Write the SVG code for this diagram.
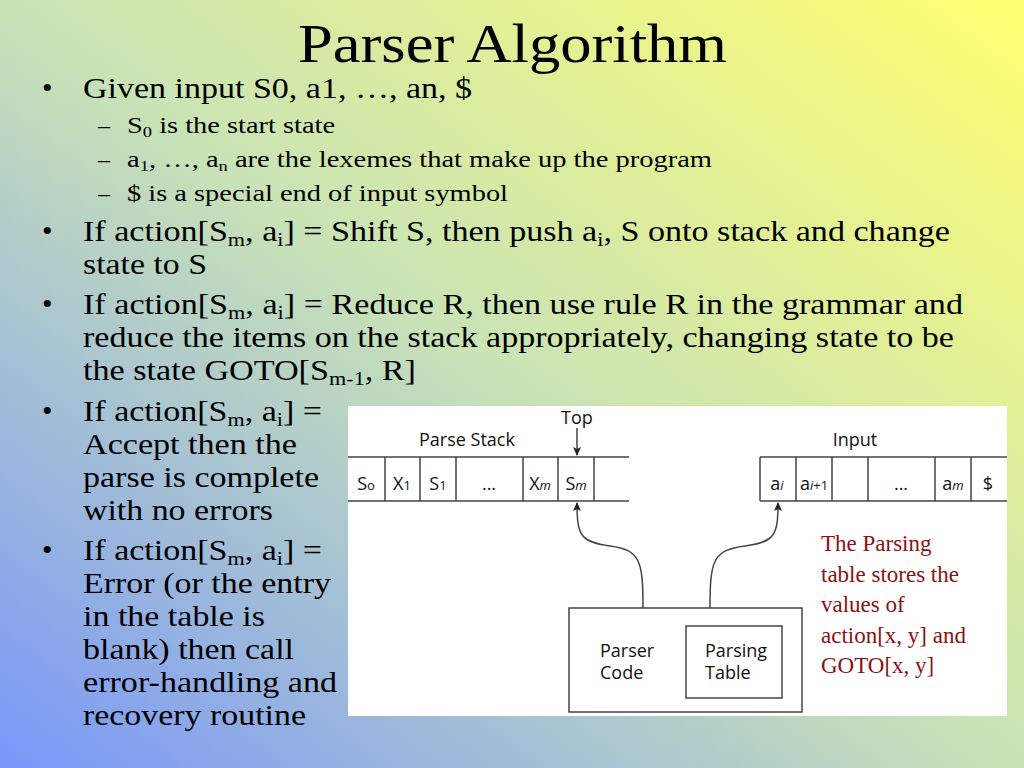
<svg xmlns="http://www.w3.org/2000/svg" width="1024" height="768" viewBox="0 0 1024 768">
<defs>
<linearGradient id="bg" x1="0" y1="1" x2="1" y2="0">
<stop offset="0" stop-color="#7896fa"/>
<stop offset="0.5" stop-color="#c9e3b6"/>
<stop offset="1" stop-color="#ffff70"/>
</linearGradient>
<marker id="ah" markerWidth="10" markerHeight="10" refX="8" refY="5" orient="auto" markerUnits="userSpaceOnUse">
<path d="M0,1 L9,5 L0,9 L2,5 Z" fill="#222"/>
</marker>
<style>
.t{font-family:"Liberation Serif",serif;fill:#000}
.m{font-size:30px}
.s{font-size:24px}
.sub{font-size:65%;baseline-shift:-0.25em}
.f{font-family:"Open Sans","DejaVu Sans",sans-serif;font-size:18px;fill:#111}
.c{text-anchor:middle}
.r{font-family:"Liberation Serif",serif;font-size:23px;fill:#8b1212}
.ln{stroke:#444;stroke-width:1.5;fill:none}
</style>
</defs>
<rect width="1024" height="768" fill="url(#bg)"/>
<text class="t" x="298" y="62" font-size="54" textLength="429" lengthAdjust="spacingAndGlyphs">Parser Algorithm</text>
<g class="t m">
<text x="42" y="98">•</text><text x="83" y="98" textLength="389" lengthAdjust="spacingAndGlyphs">Given input S0, a1, …, an, $</text>
<text x="42" y="241">•</text><text x="83" y="241" textLength="867" lengthAdjust="spacingAndGlyphs">If action[S<tspan class="sub">m</tspan>, a<tspan class="sub">i</tspan>] = Shift S, then push a<tspan class="sub">i</tspan>, S onto stack and change</text>
<text x="83" y="274" textLength="124" lengthAdjust="spacingAndGlyphs">state to S</text>
<text x="42" y="314">•</text><text x="83" y="314" textLength="880" lengthAdjust="spacingAndGlyphs">If action[S<tspan class="sub">m</tspan>, a<tspan class="sub">i</tspan>] = Reduce R, then use rule R in the grammar and</text>
<text x="83" y="347" textLength="871" lengthAdjust="spacingAndGlyphs">reduce the items on the stack appropriately, changing state to be</text>
<text x="83" y="380" textLength="333" lengthAdjust="spacingAndGlyphs">the state GOTO[S<tspan class="sub">m-1</tspan>, R]</text>
<text x="42" y="421">•</text><text x="83" y="421" textLength="239" lengthAdjust="spacingAndGlyphs">If action[S<tspan class="sub">m</tspan>, a<tspan class="sub">i</tspan>] =</text>
<text x="83" y="454" textLength="214" lengthAdjust="spacingAndGlyphs">Accept then the</text>
<text x="83" y="487" textLength="236" lengthAdjust="spacingAndGlyphs">parse is complete</text>
<text x="83" y="520" textLength="190" lengthAdjust="spacingAndGlyphs">with no errors</text>
<text x="42" y="560">•</text><text x="83" y="560" textLength="239" lengthAdjust="spacingAndGlyphs">If action[S<tspan class="sub">m</tspan>, a<tspan class="sub">i</tspan>] =</text>
<text x="83" y="593" textLength="248" lengthAdjust="spacingAndGlyphs">Error (or the entry</text>
<text x="83" y="626" textLength="182" lengthAdjust="spacingAndGlyphs">in the table is</text>
<text x="83" y="659" textLength="211" lengthAdjust="spacingAndGlyphs">blank) then call</text>
<text x="83" y="692" textLength="254" lengthAdjust="spacingAndGlyphs">error-handling and</text>
<text x="83" y="725" textLength="223" lengthAdjust="spacingAndGlyphs">recovery routine</text>
</g>
<g class="t s">
<text x="98" y="133">–</text><text x="127" y="133" textLength="208" lengthAdjust="spacingAndGlyphs">S<tspan class="sub">0</tspan> is the start state</text>
<text x="98" y="167">–</text><text x="127" y="167" textLength="585" lengthAdjust="spacingAndGlyphs">a<tspan class="sub">1</tspan>, …, a<tspan class="sub">n</tspan> are the lexemes that make up the program</text>
<text x="98" y="201">–</text><text x="127" y="201" textLength="381" lengthAdjust="spacingAndGlyphs">$ is a special end of input symbol</text>
</g>
<rect x="348" y="406" width="659" height="310" fill="#fff"/>
<g id="stack">
<path class="ln" d="M348,457 H629 M348,501 H629 M385,457 V501 M420,457 V501 M456,457 V501 M523,457 V501 M558,457 V501 M594,457 V501"/>
<text class="f c" x="467" y="446">Parse Stack</text>
<text class="f c" x="366" y="490">S<tspan font-size="13">o</tspan></text>
<text class="f c" x="402" y="490">X<tspan font-size="13">1</tspan></text>
<text class="f c" x="438" y="490">S<tspan font-size="13">1</tspan></text>
<text class="f c" x="489" y="490">...</text>
<text class="f c" x="540" y="490">X<tspan font-size="13" font-style="italic">m</tspan></text>
<text class="f c" x="576" y="490">S<tspan font-size="13" font-style="italic">m</tspan></text>
<text class="f c" x="577" y="424">Top</text>
</g>
<g id="input">
<path class="ln" d="M760,457 H1007 M760,501 H1007 M760,457 V501 M796,457 V501 M832,457 V501 M868,457 V501 M935,457 V501 M971,457 V501"/>
<text class="f c" x="855" y="446">Input</text>
<text class="f c" x="777" y="490">a<tspan font-size="13" font-style="italic">i</tspan></text>
<text class="f c" x="814" y="490">a<tspan font-size="13"><tspan font-style="italic">i</tspan>+1</tspan></text>
<text class="f c" x="901" y="490">...</text>
<text class="f c" x="953" y="490">a<tspan font-size="13" font-style="italic">m</tspan></text>
<text class="f c" x="988" y="490">$</text>
</g>
<g id="parser">
<rect class="ln" x="569" y="608" width="233" height="104"/>
<rect class="ln" x="686" y="626" width="96" height="72"/>
<text class="f" x="600" y="657">Parser</text>
<text class="f" x="600" y="679">Code</text>
<text class="f" x="705" y="657">Parsing</text>
<text class="f" x="705" y="679">Table</text>
</g>
<g id="connectors">
<path class="ln" d="M577,428 V455" marker-end="url(#ah)"/>
<path class="ln" d="M643,608 C643,560 640,550 610,546 C580,542 577,535 577,503" marker-end="url(#ah)"/>
<path class="ln" d="M710,608 C710,560 713,550 745,546 C775,542 778,535 778,503" marker-end="url(#ah)"/>
</g>
<g class="r">
<text x="821" y="551">The Parsing</text>
<text x="821" y="582">table stores the</text>
<text x="821" y="612">values of</text>
<text x="821" y="643">action[x, y] and</text>
<text x="821" y="673">GOTO[x, y]</text>
</g>
</svg>
